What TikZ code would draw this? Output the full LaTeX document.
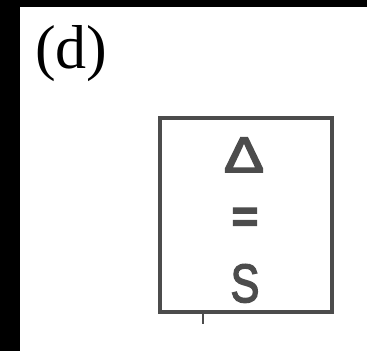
\documentclass[tikz,border=0pt]{standalone}
\usepackage{fontspec}
\setmainfont{Liberation Serif}
\newfontfamily\symfont[FakeBold=3]{Liberation Sans}
\usepackage{xcolor}
\usepackage{tikz}
\usetikzlibrary{positioning}

\begin{document}
\begin{tikzpicture}[
  x=1pt, y=-1pt,
  sym/.style={anchor=base, inner sep=0pt, text=black!70, font=\fontsize{54}{60}\selectfont\symfont},
  frame/.style={draw=black!70, line width=3.2pt, minimum width=172pt, minimum height=194pt, inner sep=0pt},
]
% backdrop
\fill[black] (0,0) rectangle (367,351);
\fill[white] (20,7) rectangle (367,351);
\useasboundingbox (0,0) rectangle (367,351);
\node[anchor=base west, inner sep=0pt, font=\fontsize{62}{66}\selectfont] (lbl) at (35,68) {(d)};
\node[frame] (box) at (246,215) {};
\node[sym, font=\fontsize{50}{60}\selectfont\symfont, xscale=1.2, transform shape] (delta) at (244,172) {Δ};
\node[sym, font=\fontsize{46}{60}\selectfont\symfont\bfseries] (eq) at (245,232) {=};
\node[sym, xscale=0.8, transform shape] (s) at (245,302) {S};
\draw[black!70, line width=2pt] (box.south west) ++(45,0) coordinate (tk) -- ++(0,10);
\end{tikzpicture}
\end{document}
